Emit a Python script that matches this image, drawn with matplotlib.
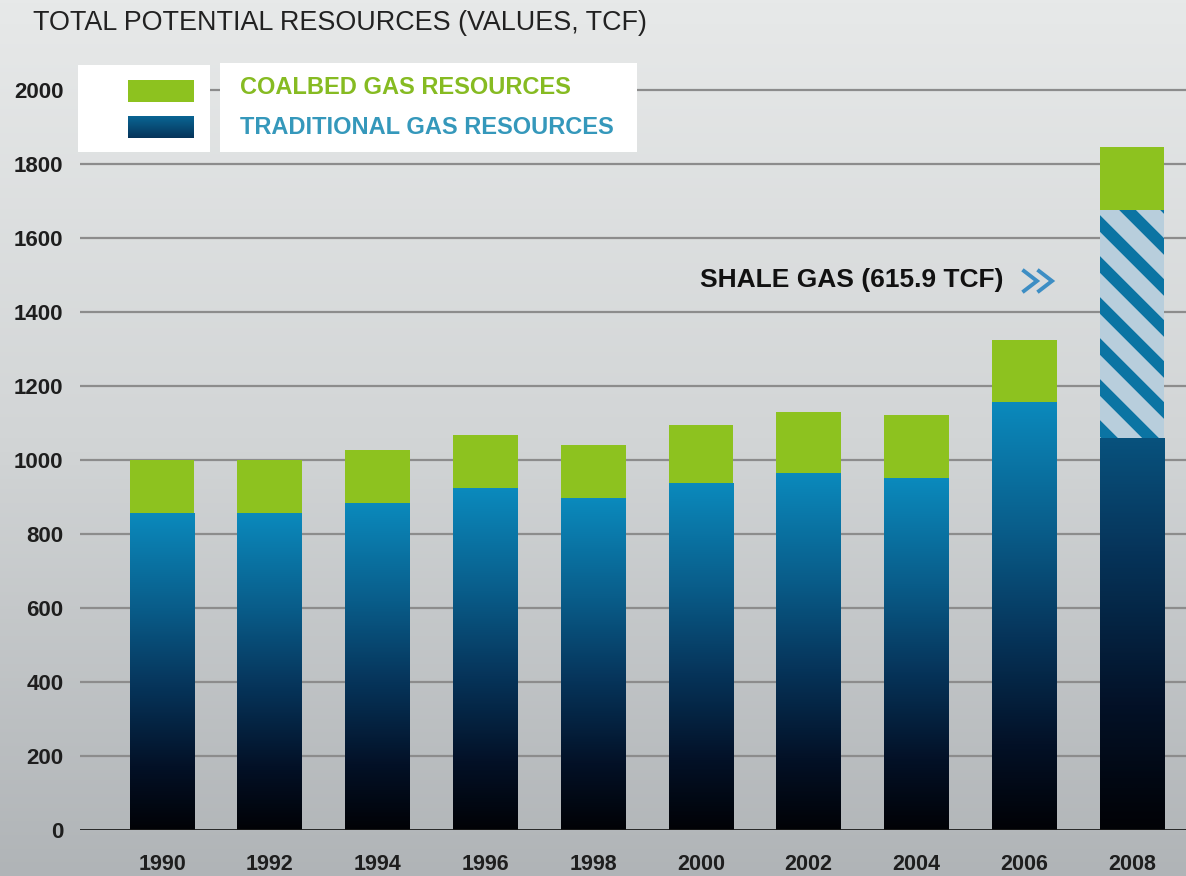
import numpy as np
import matplotlib
matplotlib.use("Agg")
import matplotlib.pyplot as plt
from matplotlib.colors import LinearSegmentedColormap
from matplotlib.patches import Rectangle
from matplotlib.lines import Line2D

plt.rcParams['font.family'] = ['Liberation Sans', 'DejaVu Sans']

# ---------------- data ----------------
years = ["1990", "1992", "1994", "1996", "1998", "2000", "2002", "2004", "2006", "2008"]
traditional = [857, 857, 884, 924, 897, 938, 965, 951, 1157, 1059]
shale = [0, 0, 0, 0, 0, 0, 0, 0, 0, 615.9]
coalbed = [143, 143, 143, 144, 143, 157, 165, 171, 167, 171]
y_ticks = [0, 200, 400, 600, 800, 1000, 1200, 1400, 1600, 1800, 2000]

title = "TOTAL POTENTIAL RESOURCES (VALUES, TCF)"
legend_labels = ["COALBED GAS RESOURCES", "TRADITIONAL GAS RESOURCES"]
shale_label = "SHALE GAS (615.9 TCF)"

# ---------------- styles ----------------
GREEN = '#8dc21f'
GREEN_TXT = '#86bb22'
TEAL_TXT = '#3598bb'
STRIPE_BLUE = '#0b74a3'
STRIPE_LIGHT = '#b8cedc'
W, H = 1186, 876

fig = plt.figure(figsize=(W / 100, H / 100), dpi=100)


def fx(px):
    return px / W


def fy(py):
    return 1 - py / H


# background gradient
bg = fig.add_axes([0, 0, 1, 1], zorder=-10)
bg_cmap = LinearSegmentedColormap.from_list('bg', ['#e7e9e9', '#d2d5d6', '#b0b4b7'])
bg.imshow(np.linspace(0, 1, 256).reshape(-1, 1), aspect='auto', cmap=bg_cmap,
          extent=(0, 1, 0, 1))
bg.set_axis_off()

# main axes
ax_left, ax_bottom, ax_top = 80, 830, 60
ax = fig.add_axes([fx(ax_left), fy(ax_bottom), 1 - fx(ax_left), (ax_bottom - ax_top) / H])
ax.patch.set_alpha(0)
for s in ax.spines.values():
    s.set_visible(False)

x = np.arange(len(years))
width = 0.6
xlim = (-0.761, 9.50)
ylim = (0, 2081)

bar_cmap = LinearSegmentedColormap.from_list(
    'bars', [(0.0, '#010206'), (0.2, '#031127'), (0.45, '#06345a'),
             (0.7, '#095d8a'), (1.0, '#0b8abd')])

# grid
for t in y_ticks[1:]:
    ax.axhline(t, color='#8c8c8c', lw=1.6, zorder=1)
ax.axhline(0, color='#1a1a1a', lw=2.0, zorder=4)

trad = np.array(traditional, dtype=float)
sh = np.array(shale, dtype=float)
cb = np.array(coalbed, dtype=float)

# traditional bars with vertical gradient
for i in range(len(years)):
    top_grad = trad[i] + sh[i]
    rect = ax.bar(x[i], trad[i], width, color='none', linewidth=0, zorder=2)[0]
    im = ax.imshow(np.linspace(trad[i] / top_grad, 0, 256).reshape(-1, 1),
                   cmap=bar_cmap, vmin=0, vmax=1, aspect='auto',
                   extent=(x[i] - width / 2, x[i] + width / 2, 0, trad[i]), zorder=2)
    im.set_clip_path(rect)

# shale (striped)
shale_rects = ax.bar(x, sh, width, bottom=trad, color=STRIPE_LIGHT, linewidth=0, zorder=2)

ax.set_xlim(*xlim)
ax.set_ylim(*ylim)

# pixel scales
ax_w_px = W - ax_left
ax_h_px = ax_bottom - ax_top
sx = ax_w_px / (xlim[1] - xlim[0])
sy = ax_h_px / (ylim[1] - ylim[0])
period_px = 41
for i, r in enumerate(shale_rects):
    if sh[i] <= 0:
        continue
    x0 = x[i] - width / 2
    x1 = x[i] + width / 2
    top = trad[i] + sh[i]
    drop = (x1 - x0) * sx / sy
    start = top - 13 / sy
    for k in range(-30, 30):
        ys = start + k * period_px / sy
        ln = Line2D([x0 - 0.2, x1 + 0.2], [ys + 0.2 * sx / sy, ys - drop - 0.2 * sx / sy],
                    color=STRIPE_BLUE, lw=8.5, solid_capstyle='butt', zorder=3)
        ax.add_line(ln)
        ln.set_clip_path(r)

# coalbed
ax.bar(x, cb, width, bottom=trad + sh, color=GREEN, linewidth=0, zorder=2)

# ticks
ax.set_yticks(y_ticks)
ax.set_yticklabels([str(t) for t in y_ticks], fontsize=16, fontweight='bold', color='#1e1e1e')
ax.set_xticks(x)
ax.set_xticklabels(years, fontsize=15.5, fontweight='bold', color='#1e1e1e')
ax.tick_params(axis='y', length=0, pad=12)
ax.tick_params(axis='x', length=0, pad=17)

# title
fig.text(fx(33), fy(23), title, fontsize=19.4, color='#222222', va='center', ha='left')

# legend boxes
fig.patches.append(Rectangle((fx(78), fy(152)), fx(210 - 78), (152 - 65) / H,
                             transform=fig.transFigure, facecolor='white', edgecolor='none', zorder=5))
fig.patches.append(Rectangle((fx(220), fy(152)), fx(637 - 220), (152 - 63) / H,
                             transform=fig.transFigure, facecolor='white', edgecolor='none', zorder=5))
fig.patches.append(Rectangle((fx(128), fy(102)), fx(66), 22 / H,
                             transform=fig.transFigure, facecolor=GREEN, edgecolor='none', zorder=6))
sw = fig.add_axes([fx(128), fy(138), fx(66), 22 / H], zorder=6)
sw.imshow(np.linspace(0.75, 0.45, 64).reshape(-1, 1), cmap=bar_cmap, vmin=0, vmax=1,
          aspect='auto')
sw.set_axis_off()
fig.text(fx(240), fy(88), legend_labels[0], fontsize=17, fontweight='bold',
         color=GREEN_TXT, va='center', ha='left', zorder=7)
fig.text(fx(240), fy(128), legend_labels[1], fontsize=17, fontweight='bold',
         color=TEAL_TXT, va='center', ha='left', zorder=7)

# shale annotation
fig.text(fx(1003), fy(280), shale_label, fontsize=19, fontweight='bold',
         color='#111111', va='center', ha='right')
for off in (0, 15):
    fig.lines.append(Line2D([fx(1024 + off), fx(1037 + off), fx(1024 + off)],
                            [fy(271), fy(281), fy(291)], transform=fig.transFigure,
                            color='#3d8ec4', lw=2.8, solid_joinstyle='miter'))

fig.savefig('out.png', dpi=100)
